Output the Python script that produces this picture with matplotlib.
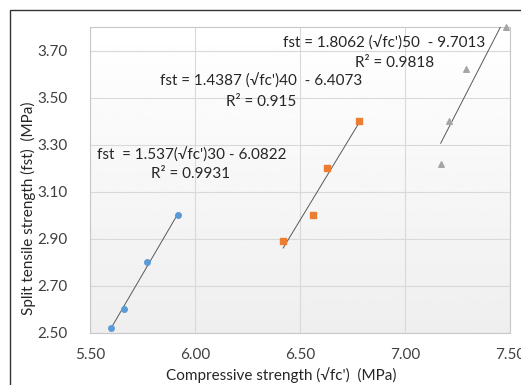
import numpy as np
import matplotlib.pyplot as plt
from matplotlib.patches import Rectangle

plt.rcParams['font.family'] = ['Lato', 'DejaVu Sans']

# fc'^0.5 (MPa) and fst (MPa) for the three mixes
x30 = [5.60, 5.66, 5.77, 5.92]
y30 = [2.52, 2.60, 2.80, 3.00]
x40 = [6.42, 6.56, 6.63, 6.78]
y40 = [2.89, 3.00, 3.20, 3.40]
x50 = [7.17, 7.21, 7.29, 7.48]
y50 = [3.22, 3.40, 3.62, 3.80]

xticks = [5.50, 6.00, 6.50, 7.00, 7.50]
yticks = [2.50, 2.70, 2.90, 3.10, 3.30, 3.50, 3.70]

eq30 = "fst  = 1.537(\u221afc')30 - 6.0822"
r30 = "R\u00b2 = 0.9931"
eq40 = "fst = 1.4387 (\u221afc')40  - 6.4073"
r40 = "R\u00b2 = 0.915"
eq50 = "fst = 1.8062 (\u221afc')50  - 9.7013"
r50 = "R\u00b2 = 0.9818"


def trend(ax, x, y):
    k, b = np.polyfit(x, y, 1)
    xs = np.array([min(x), max(x)])
    ax.plot(xs, k * xs + b, color='#595959', lw=0.7, zorder=3)


def plotDraw():
    fig = plt.figure(figsize=(5.21, 3.85), dpi=100)
    ax = fig.add_axes([90 / 521, 1 - 333 / 385, 420 / 521, 306 / 385])

    # light gradient background of the plot area
    grad = np.linspace(1.0, 0.935, 256).reshape(-1, 1)
    ax.imshow(grad, cmap='gray', vmin=0, vmax=1, aspect='auto',
              extent=[0, 1, 0, 1], transform=ax.transAxes, zorder=0)

    ax.set_xlim(5.5, 7.5)
    ax.set_ylim(2.5, 3.8)
    ax.set_xticks(xticks)
    ax.set_yticks(yticks)
    ax.set_xticklabels(['%.2f' % v for v in xticks], fontsize=11)
    ax.set_yticklabels(['%.2f' % v for v in yticks], fontsize=11)
    ax.tick_params(length=0, colors='#404040')
    ax.tick_params(axis='x', pad=11)
    ax.tick_params(axis='y', pad=16)
    ax.grid(True, color='#d9d9d9', lw=0.8, zorder=1)
    for s in ax.spines.values():
        s.set_color('#c8c8c8')
        s.set_linewidth(0.8)

    ax.scatter(x30, y30, s=16, marker='o', color='#5b9bd5', zorder=4)
    ax.scatter(x40, y40, s=18, marker='s', color='#ed7d31', zorder=4)
    ax.scatter(x50, y50, s=16, marker='^', color='#a5a5a5', zorder=4,
               clip_on=False)
    trend(ax, x30, y30)
    trend(ax, x40, y40)
    trend(ax, x50, y50)

    tk = dict(fontsize=11, color='#262626', ha='center', va='center',
              transform=fig.transFigure)
    fig.text(192 / 521, 1 - 155 / 385, eq30, **tk)
    fig.text(191 / 521, 1 - 174 / 385, r30, **tk)
    fig.text(261 / 521, 1 - 81 / 385, eq40, **tk)
    fig.text(261 / 521, 1 - 102 / 385, r40, **tk)
    fig.text(384 / 521, 1 - 43 / 385, eq50, **tk)
    fig.text(395 / 521, 1 - 63 / 385, r50, **tk)

    ax.set_xlabel("Compressive strength (\u221afc')  (MPa)", fontsize=11,
                  color='#262626')
    ax.set_ylabel("Split tensile strength (fst)  (MPa)", fontsize=11,
                  color='#262626')
    ax.xaxis.set_label_coords((281 - 90) / 420, -(367 - 333) / 306)
    ax.yaxis.set_label_coords(-(90 - 36) / 420, (333 - 208) / 306)

    # outer chart frame
    fig.patches.append(Rectangle((10 / 521, -0.1), 1.2, 1 - 10 / 385 + 0.1,
                                 transform=fig.transFigure, fill=False,
                                 edgecolor='#333333', lw=1))

    fig.savefig('out.png', dpi=100)


if __name__ == "__main__":
    plotDraw()
